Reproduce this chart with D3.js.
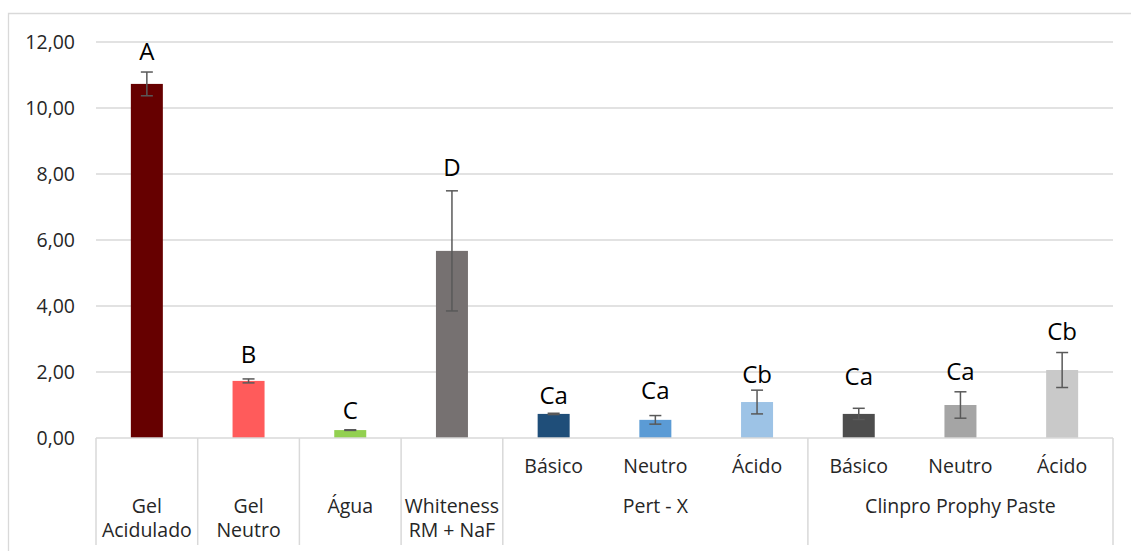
<!DOCTYPE html>
<html>
<head>
<meta charset="utf-8">
<script src="https://cdn.jsdelivr.net/npm/d3@7"></script>
<style>
  body { margin: 0; background: #fff; }
  svg { font-family: "Open Sans", sans-serif; }
  .tick-label { fill: #262626; font-size: 19.5px; }
  .cat-label { fill: #262626; font-size: 19.5px; }
  .letter { fill: #000; font-size: 24px; }
</style>
</head>
<body>
<svg id="chart"></svg>
<script>
// bar values
const categories = ["Gel Acidulado", "Gel Neutro", "Água", "Whiteness RM + NaF",
  "Pert - X Básico", "Pert - X Neutro", "Pert - X Ácido",
  "Clinpro Básico", "Clinpro Neutro", "Clinpro Ácido"];
const values = [10.73, 1.73, 0.24, 5.67, 0.73, 0.55, 1.09, 0.73, 1.00, 2.06];
const errors = [0.36, 0.06, 0.01, 1.82, 0.02, 0.13, 0.36, 0.17, 0.40, 0.53];
const colors = ["#660000", "#FF5B5B", "#92D050", "#767171", "#1F4E79",
  "#5B9BD5", "#9DC3E6", "#4D4D4D", "#A5A5A5", "#C9C9C9"];
const letters = ["A", "B", "C", "D", "Ca", "Ca", "Cb", "Ca", "Ca", "Cb"];
// baseline of each letter, in y units
const letterAt = [11.45, 2.27, 0.59, 7.94, 1.04, 1.18, 1.67, 1.61, 1.76, 2.97];
const yTicks = [0, 2, 4, 6, 8, 10, 12];

// axis labels: leaf row (index = category) and group row
const leafLabels = [null, null, null, null, "Básico", "Neutro", "Ácido", "Básico", "Neutro", "Ácido"];
const singleLabels = [["Gel", "Acidulado"], ["Gel", "Neutro"], ["Água"], ["Whiteness", "RM + NaF"]];
const groups = [{name: "Pert - X", from: 4, to: 6}, {name: "Clinpro Prophy Paste", from: 7, to: 9}];

const W = 1131, H = 551;
const margin = {top: 42, right: 18, bottom: 113, left: 96};
const width = W - margin.left - margin.right;
const height = H - margin.top - margin.bottom;

const svg = d3.select("#chart").attr("width", W).attr("height", H);

// outer chart frame
svg.append("path")
  .attr("d", `M8.5,${H} V13.5 H${W}`)
  .attr("fill", "none").attr("stroke", "#d9d9d9").attr("stroke-width", 1.3);

const g = svg.append("g").attr("transform", `translate(${margin.left},${margin.top})`);

const x = d3.scaleBand().domain(d3.range(categories.length)).range([0, width]).paddingInner(0).paddingOuter(0);
const y = d3.scaleLinear().domain([0, 12]).range([height, 0]);
const barW = 32;

// gridlines
g.selectAll(".grid").data(yTicks.filter(d => d > 0)).join("line")
  .attr("x1", 0).attr("x2", width)
  .attr("y1", d => y(d)).attr("y2", d => y(d))
  .attr("stroke", "#d9d9d9").attr("stroke-width", 1.5);

// y tick labels
g.selectAll(".tick-label").data(yTicks).join("text")
  .attr("class", "tick-label")
  .attr("x", -21).attr("y", d => y(d))
  .attr("dy", "0.35em").attr("text-anchor", "end")
  .text(d => d3.format(".2f")(d).replace(".", ","));

// bars
g.selectAll(".bar").data(values).join("rect")
  .attr("x", (d, i) => x(i) + x.bandwidth() / 2 - barW / 2)
  .attr("y", d => y(d))
  .attr("width", barW)
  .attr("height", d => y(0) - y(d))
  .attr("fill", (d, i) => colors[i]);

// error bars
const err = g.selectAll(".err").data(values).join("g")
  .attr("transform", (d, i) => `translate(${x(i) + x.bandwidth() / 2},0)`);
err.append("line")
  .attr("y1", (d, i) => y(d + errors[i])).attr("y2", (d, i) => y(d - errors[i]))
  .attr("stroke", "#595959").attr("stroke-width", 1.5);
err.append("line")
  .attr("x1", -6).attr("x2", 6)
  .attr("y1", (d, i) => y(d + errors[i])).attr("y2", (d, i) => y(d + errors[i]))
  .attr("stroke", "#595959").attr("stroke-width", 1.5);
err.append("line")
  .attr("x1", -6).attr("x2", 6)
  .attr("y1", (d, i) => y(d - errors[i])).attr("y2", (d, i) => y(d - errors[i]))
  .attr("stroke", "#595959").attr("stroke-width", 1.5);

// significance letters
g.selectAll(".letter").data(letters).join("text")
  .attr("class", "letter")
  .attr("x", (d, i) => x(i) + x.bandwidth() / 2)
  .attr("y", (d, i) => y(letterAt[i]))
  .attr("text-anchor", "middle")
  .text(d => d);

// category axis baseline
g.append("line")
  .attr("x1", 0).attr("x2", width)
  .attr("y1", y(0)).attr("y2", y(0))
  .attr("stroke", "#d9d9d9").attr("stroke-width", 1.5);

// separators between top-level categories
const seps = [0, 1, 2, 3, 4, 7].map(i => x(i)).concat([width]);
g.selectAll(".sep").data(seps).join("line")
  .attr("x1", d => d).attr("x2", d => d)
  .attr("y1", y(0)).attr("y2", height + 107)
  .attr("stroke", "#d9d9d9").attr("stroke-width", 1.5);

// leaf labels
g.selectAll(".leaf").data(leafLabels).join("text")
  .attr("class", "cat-label")
  .attr("x", (d, i) => x(i) + x.bandwidth() / 2)
  .attr("y", height + 28)
  .attr("dy", "0.35em").attr("text-anchor", "middle")
  .text(d => d || "");

// single categories (span both rows), one text per line
singleLabels.forEach((lines, i) => {
  lines.forEach((l, k) => {
    g.append("text").attr("class", "cat-label")
      .attr("text-anchor", "middle")
      .attr("x", x(i) + x.bandwidth() / 2)
      .attr("y", height + 68 + k * 24)
      .attr("dy", "0.35em")
      .text(l);
  });
});

// group labels
g.selectAll(".group").data(groups).join("text")
  .attr("class", "cat-label")
  .attr("x", d => (x(d.from) + x(d.to) + x.bandwidth()) / 2)
  .attr("y", height + 68)
  .attr("dy", "0.35em").attr("text-anchor", "middle")
  .text(d => d.name);
</script>
</body>
</html>
